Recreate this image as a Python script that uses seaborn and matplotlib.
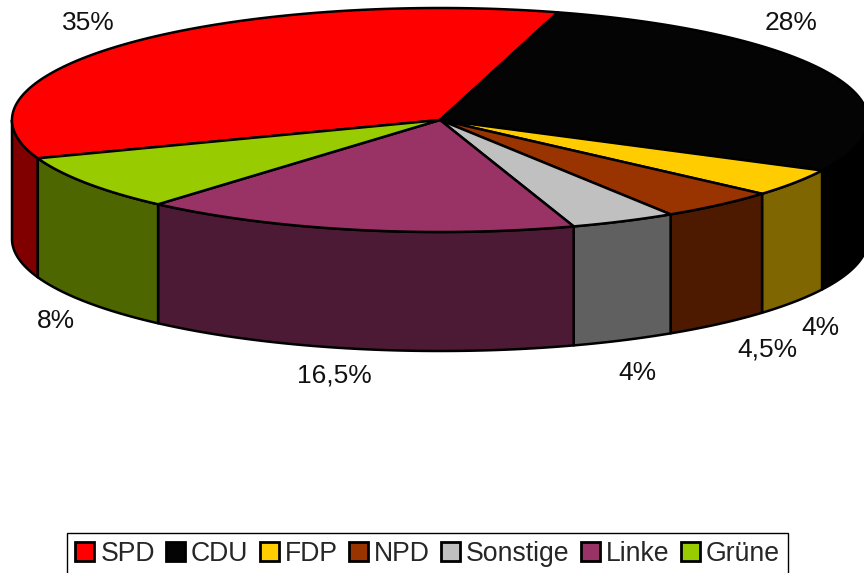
#!/usr/bin/env python3
# coding=utf-8
from matplotlib import pyplot as plt
from matplotlib.patches import Patch
import numpy as np
import seaborn as sns

parties = ["SPD", "CDU", "FDP", "NPD", "Sonstige", "Linke", "Grüne"]
shares = [35, 28, 4, 4.5, 4, 16.5, 8]
share_labels = ["35%", "28%", "4%", "4,5%", "4%", "16,5%", "8%"]
top_colors = ["#ff0000", "#040404", "#ffcc00", "#993300", "#c0c0c0", "#993366", "#99cc00"]
side_colors = ["#800000", "#000000", "#806600", "#4d1a00", "#606060", "#4d1a36", "#4d6600"]

# pixel layout of the pie
CX, CY = 440, 120
RX, RY = 428, 112
DEPTH = 119
START = 74.0  # boundary SPD/CDU, slices run clockwise from there (CDU first), SPD last
label_pos = [(88, 23), (791, 23), (820, 328), (767, 349), (637, 373), (334, 376), (56, 321)]


def ellipse(t):
    t = np.radians(t)
    return CX + RX * np.cos(t), CY - RY * np.sin(t)


sns.set_theme(style="white")
plt.rcParams["font.family"] = ["Liberation Sans", "DejaVu Sans"]

fig = plt.figure(figsize=(8.64, 5.73), dpi=100)
ax = fig.add_axes([0, 0, 1, 1])
ax.set_xlim(0, 864)
ax.set_ylim(573, 0)
ax.axis("off")

# slice angles, SPD begins 35% before START and everything runs clockwise
angles = 3.6 * np.array(shares)
begin = START + angles[0]
edges = begin - np.concatenate([[0], np.cumsum(angles)])

# side faces, only the front half of the rim is visible
for i in range(len(parties)):
    for off in (0, 360, -360):
        hi = min(edges[i] + off, 0)
        lo = max(edges[i + 1] + off, -180)
        if hi > lo:
            t = np.linspace(hi, lo, 80)
            x, y = ellipse(t)
            ax.fill(np.r_[x, x[::-1]], np.r_[y, (y + DEPTH)[::-1]],
                    facecolor=side_colors[i], edgecolor="black", lw=1.8, joinstyle="round")

# top faces
for i in range(len(parties)):
    t = np.linspace(edges[i], edges[i + 1], 200)
    x, y = ellipse(t)
    ax.fill(np.r_[CX, x], np.r_[CY, y], facecolor=top_colors[i], edgecolor="black",
            lw=1.8, joinstyle="round")

for lab, (lx, ly) in zip(share_labels, label_pos):
    ax.text(lx, ly, lab, fontsize=19, ha="center", va="center", color="#111111")

handles = [Patch(facecolor=c, edgecolor="black", linewidth=2) for c in top_colors]
leg = ax.legend(handles, parties, loc="lower center", bbox_to_anchor=(427.5 / 864, -0.004),
                ncol=len(parties), fontsize=19.2, frameon=True, fancybox=False,
                edgecolor="black", framealpha=1, handlelength=0.72, handleheight=0.72,
                handletextpad=0.22, columnspacing=0.42, borderpad=0.3, borderaxespad=0)
leg.get_frame().set_linewidth(1.0)

fig.savefig("out.png", dpi=100)
